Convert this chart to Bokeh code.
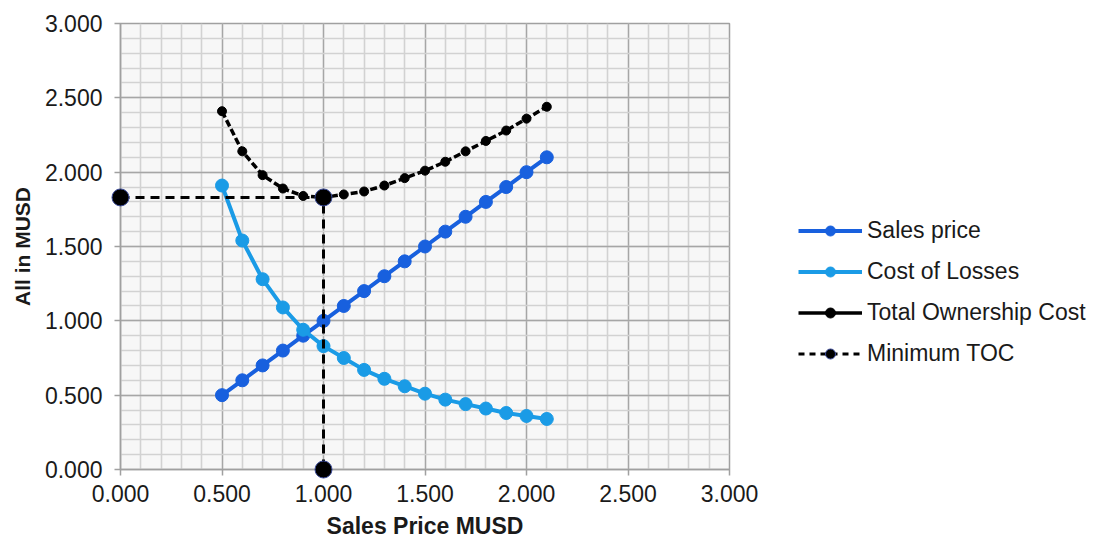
from bokeh.plotting import figure
from bokeh.models import (Range1d, FixedTicker, NumeralTickFormatter, Legend, LegendItem)
from bokeh.embed import file_html
from bokeh.resources import INLINE

# ---- data ----
x_vals = [0.5, 0.6, 0.7, 0.8, 0.9, 1.0, 1.1, 1.2, 1.3, 1.4, 1.5, 1.6, 1.7, 1.8, 1.9, 2.0, 2.1]
sales_price = [0.5, 0.6, 0.7, 0.8, 0.9, 1.0, 1.1, 1.2, 1.3, 1.4, 1.5, 1.6, 1.7, 1.8, 1.9, 2.0, 2.1]
cost_of_losses = [1.91, 1.54, 1.28, 1.09, 0.94, 0.83, 0.75, 0.67, 0.61, 0.56, 0.51, 0.47, 0.44, 0.41, 0.38, 0.36, 0.34]
total_ownership = [2.41, 2.14, 1.98, 1.89, 1.84, 1.83, 1.85, 1.87, 1.91, 1.96, 2.01, 2.07, 2.14, 2.21, 2.28, 2.36, 2.44]
min_toc_x = [0.0, 1.0, 1.0]
min_toc_y = [1.83, 1.83, 0.0]
major_ticks = [0.0, 0.5, 1.0, 1.5, 2.0, 2.5, 3.0]
minor_ticks = [i / 10 for i in range(0, 31)]

FONT = "Liberation Sans"
C_SALES = "#1860DE"
C_LOSS = "#1A9BE6"

p = figure(frame_width=609, frame_height=446, width=1100, height=541,
           x_range=Range1d(0, 3), y_range=Range1d(0, 3),
           output_backend="svg", toolbar_location=None,
           min_border_left=120, min_border_right=371, min_border_top=23, min_border_bottom=72,
           background_fill_color="#f7f7f7", border_fill_color="white")

p.outline_line_color = "#a0a0a0"
p.outline_line_width = 1.5

for ax in (p.xaxis[0], p.yaxis[0]):
    ax.ticker = FixedTicker(ticks=major_ticks, minor_ticks=minor_ticks)
    ax.formatter = NumeralTickFormatter(format="0.000")
    ax.major_label_text_font = FONT
    ax.major_label_text_font_size = "23px"
    ax.major_label_text_color = "#1a1a1a"
    ax.axis_label_text_font = FONT
    ax.axis_label_text_font_style = "bold"
    ax.axis_label_text_color = "#1a1a1a"
    ax.axis_line_color = "#a0a0a0"
    ax.axis_line_width = 1.5
    ax.major_tick_line_color = "#a0a0a0"
    ax.major_tick_line_width = 1.5
    ax.major_tick_out = 6
    ax.major_tick_in = 0
    ax.minor_tick_line_color = None

p.xaxis.axis_label = "Sales Price MUSD"
p.yaxis.axis_label = "All in MUSD"
p.xaxis.axis_label_text_font_size = "23px"
p.yaxis.axis_label_text_font_size = "21px"
p.xaxis.major_label_standoff = 9
p.yaxis.major_label_standoff = 12
p.xaxis.axis_label_standoff = 8
p.yaxis.axis_label_standoff = 8

for g in (p.xgrid[0], p.ygrid[0]):
    g.grid_line_color = "#a6a6a6"
    g.grid_line_width = 1.3
    g.minor_grid_line_color = "#d2d2d2"
    g.minor_grid_line_width = 1.6

# series
l1 = p.line(x_vals, sales_price, line_color=C_SALES, line_width=4)
s1 = p.scatter(x_vals, sales_price, size=13, fill_color=C_SALES, line_color=C_SALES)

l2 = p.line(x_vals, cost_of_losses, line_color=C_LOSS, line_width=4)
s2 = p.scatter(x_vals, cost_of_losses, size=13, fill_color=C_LOSS, line_color=C_LOSS)

l3 = p.line(x_vals, total_ownership, line_color="black", line_width=3.5, line_dash="7 3")
s3 = p.scatter(x_vals, total_ownership, size=9, fill_color="black", line_color="black")

l4 = p.line(min_toc_x, min_toc_y, line_color="black", line_width=3, line_dash="9 6", level="overlay")
s4 = p.scatter(min_toc_x, min_toc_y, size=17, fill_color="black", line_color="#3a4a9a",
               line_width=1, level="overlay")

# legend-only (hidden) line keys: solid for TOC, short dashes for Minimum TOC
l3_key = p.line(x_vals, total_ownership, line_color="black", line_width=3.5, visible=False)
l4_key = p.line(min_toc_x, min_toc_y, line_color="black", line_width=3, line_dash="6 5", visible=False)

legend = Legend(items=[
    LegendItem(label="Sales price", renderers=[l1, s1]),
    LegendItem(label="Cost of Losses", renderers=[l2, s2]),
    LegendItem(label="Total Ownership Cost", renderers=[l3_key, s3]),
    LegendItem(label="Minimum TOC", renderers=[l4_key, s4]),
], location=(69, 102))
legend.label_text_font = FONT
legend.label_text_font_size = "23px"
legend.label_text_color = "#1a1a1a"
legend.glyph_width = 64
legend.glyph_height = 25
legend.label_height = 25
legend.label_standoff = 5
legend.spacing = 14
legend.padding = 0
legend.margin = 0
legend.border_line_color = None
legend.background_fill_alpha = 0
p.add_layout(legend, "right")

open("out.html", "w").write(file_html(p, INLINE))
